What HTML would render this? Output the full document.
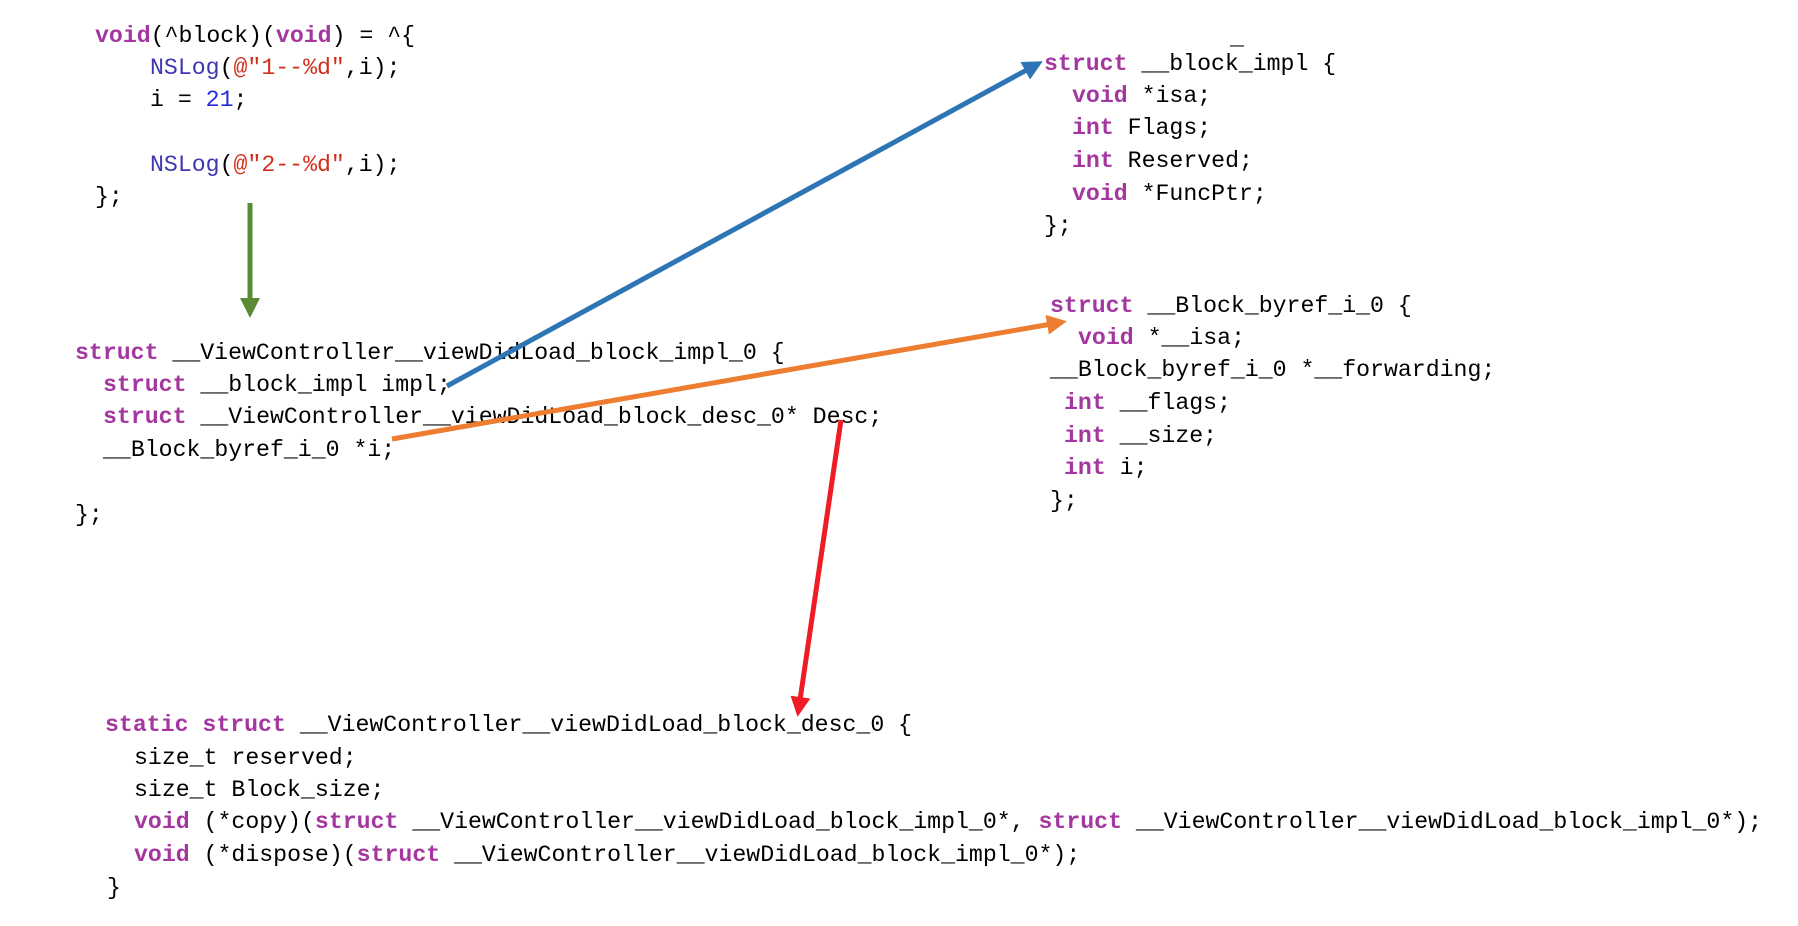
<!DOCTYPE html>
<html><head><meta charset="utf-8"><style>
html,body{margin:0;padding:0;background:#fff;}
body{width:1798px;height:926px;position:relative;overflow:hidden;font-family:"Liberation Mono",monospace;font-size:23.2px;color:#000;}
.l{position:absolute;white-space:pre;line-height:32px;height:32px;}
.k{color:#a4379f;font-weight:bold;}
.f{color:#3f37b0;}
.s{color:#d12f1b;}
.n{color:#272ad8;}
svg{position:absolute;left:0;top:0;}
</style></head><body>
<div class="l" style="left:95px;top:20px"><span class="k">void</span>(^block)(<span class="k">void</span>) = ^{</div>
<div class="l" style="left:150px;top:52px"><span class="f">NSLog</span>(<span class="s">@"1--%d"</span>,i);</div>
<div class="l" style="left:150px;top:84px">i = <span class="n">21</span>;</div>
<div class="l" style="left:150px;top:149px"><span class="f">NSLog</span>(<span class="s">@"2--%d"</span>,i);</div>
<div class="l" style="left:95px;top:181px">};</div>

<div class="l" style="left:1230px;top:22px">_</div>
<div class="l" style="left:1044px;top:48px"><span class="k">struct</span> __block_impl {</div>
<div class="l" style="left:1072px;top:80px"><span class="k">void</span> *isa;</div>
<div class="l" style="left:1072px;top:112px"><span class="k">int</span> Flags;</div>
<div class="l" style="left:1072px;top:145px"><span class="k">int</span> Reserved;</div>
<div class="l" style="left:1072px;top:178px"><span class="k">void</span> *FuncPtr;</div>
<div class="l" style="left:1044px;top:210px">};</div>

<div class="l" style="left:1050px;top:290px"><span class="k">struct</span> __Block_byref_i_0 {</div>
<div class="l" style="left:1078px;top:322px"><span class="k">void</span> *__isa;</div>
<div class="l" style="left:1050px;top:354px">__Block_byref_i_0 *__forwarding;</div>
<div class="l" style="left:1064px;top:387px"><span class="k">int</span> __flags;</div>
<div class="l" style="left:1064px;top:420px"><span class="k">int</span> __size;</div>
<div class="l" style="left:1064px;top:452px"><span class="k">int</span> i;</div>
<div class="l" style="left:1050px;top:485px">};</div>

<div class="l" style="left:75px;top:337px"><span class="k">struct</span> __ViewController__viewDidLoad_block_impl_0 {</div>
<div class="l" style="left:103px;top:369px"><span class="k">struct</span> __block_impl impl;</div>
<div class="l" style="left:103px;top:401px"><span class="k">struct</span> __ViewController__viewDidLoad_block_desc_0* Desc;</div>
<div class="l" style="left:103px;top:434px">__Block_byref_i_0 *i;</div>
<div class="l" style="left:75px;top:499px">};</div>

<div class="l" style="left:105px;top:709px"><span class="k">static struct</span> __ViewController__viewDidLoad_block_desc_0 {</div>
<div class="l" style="left:134px;top:742px">size_t reserved;</div>
<div class="l" style="left:134px;top:774px">size_t Block_size;</div>
<div class="l" style="left:134px;top:806px"><span class="k">void</span> (*copy)(<span class="k">struct</span> __ViewController__viewDidLoad_block_impl_0*, <span class="k">struct</span> __ViewController__viewDidLoad_block_impl_0*);</div>
<div class="l" style="left:134px;top:839px"><span class="k">void</span> (*dispose)(<span class="k">struct</span> __ViewController__viewDidLoad_block_impl_0*);</div>
<div class="l" style="left:107px;top:872px">}</div>

<svg width="1798" height="926" viewBox="0 0 1798 926">
<defs>
<marker id="ag" markerWidth="4" markerHeight="4" refX="2" refY="2" orient="auto" markerUnits="strokeWidth"><path d="M0,0 L4,2 L0,4z" fill="#5a8a35"/></marker>
<marker id="ab" markerWidth="4" markerHeight="4" refX="2" refY="2" orient="auto" markerUnits="strokeWidth"><path d="M0,0 L4,2 L0,4z" fill="#2e75b6"/></marker>
<marker id="ao" markerWidth="4" markerHeight="4" refX="2" refY="2" orient="auto" markerUnits="strokeWidth"><path d="M0,0 L4,2 L0,4z" fill="#ed7d31"/></marker>
<marker id="ar" markerWidth="4" markerHeight="4" refX="2" refY="2" orient="auto" markerUnits="strokeWidth"><path d="M0,0 L4,2 L0,4z" fill="#ee1c25"/></marker>
</defs>
<line x1="250" y1="203" x2="250" y2="308" stroke="#5a8a35" stroke-width="5" marker-end="url(#ag)"/>
<line x1="447" y1="386" x2="1034" y2="66" stroke="#2e75b6" stroke-width="5" marker-end="url(#ab)"/>
<line x1="392" y1="439" x2="1057" y2="323" stroke="#ed7d31" stroke-width="5" marker-end="url(#ao)"/>
<line x1="841" y1="420" x2="799" y2="707" stroke="#ee1c25" stroke-width="5" marker-end="url(#ar)"/>
</svg>
</body></html>
